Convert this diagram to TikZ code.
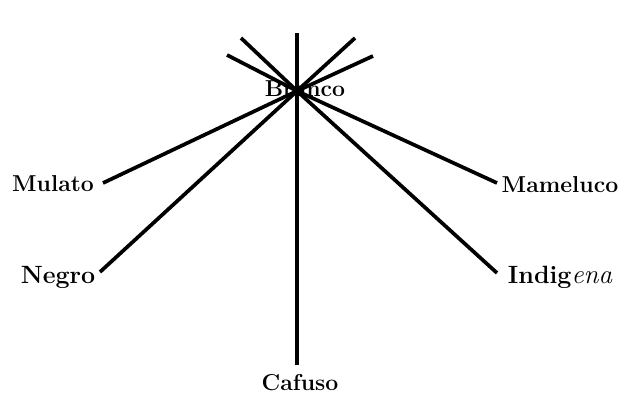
\documentclass[tikz,border=0pt]{standalone}
\begin{document}
\begin{tikzpicture}[x=1pt,y=-1pt,
  lbl/.style={font=\fontsize{23}{26}\selectfont\bfseries, inner sep=0pt},
  lblbig/.style={font=\fontsize{25}{28}\selectfont\bfseries, inner sep=0pt},
  ray/.style={line width=3.7pt, black}]
\useasboundingbox (0,0) rectangle (623,396);
% labels
\node[lbl]    (branco)   at (305,89)  {Branco};
\node[lbl]    (mulato)   at (53,184)  {Mulato};
\node[lblbig] (negro)    at (58,277)  {Negro};
\node[lbl]    (mameluco) at (560,185) {Mameluco};
\node[lblbig] (indigena) at (560,277) {Indig{\mdseries\itshape\fontsize{27}{28}\selectfont ena}};
\node[lbl]    (cafuso)   at (300,383) {Cafuso};
% ray ends
\coordinate (C)   at (297,91);
\coordinate (mu)  at (103,183);
\coordinate (ne)  at (100,272);
\coordinate (ma)  at (497,183);
\coordinate (in)  at (497,273);
\coordinate (ca)  at (297,365);
\coordinate (top) at (297,33);
\coordinate (t1)  at (373,56);
\coordinate (t2)  at (355,38);
\coordinate (t3)  at (227,55);
\coordinate (t4)  at (241,38);
% rays
\draw[ray] (mu) -- (C) -- (t1);
\draw[ray] (ne) -- (C) -- (t2);
\draw[ray] (ma) -- (C) -- (t3);
\draw[ray] (in) -- (C) -- (t4);
\draw[ray] (ca) -- (C) -- (top);
\end{tikzpicture}
\end{document}
